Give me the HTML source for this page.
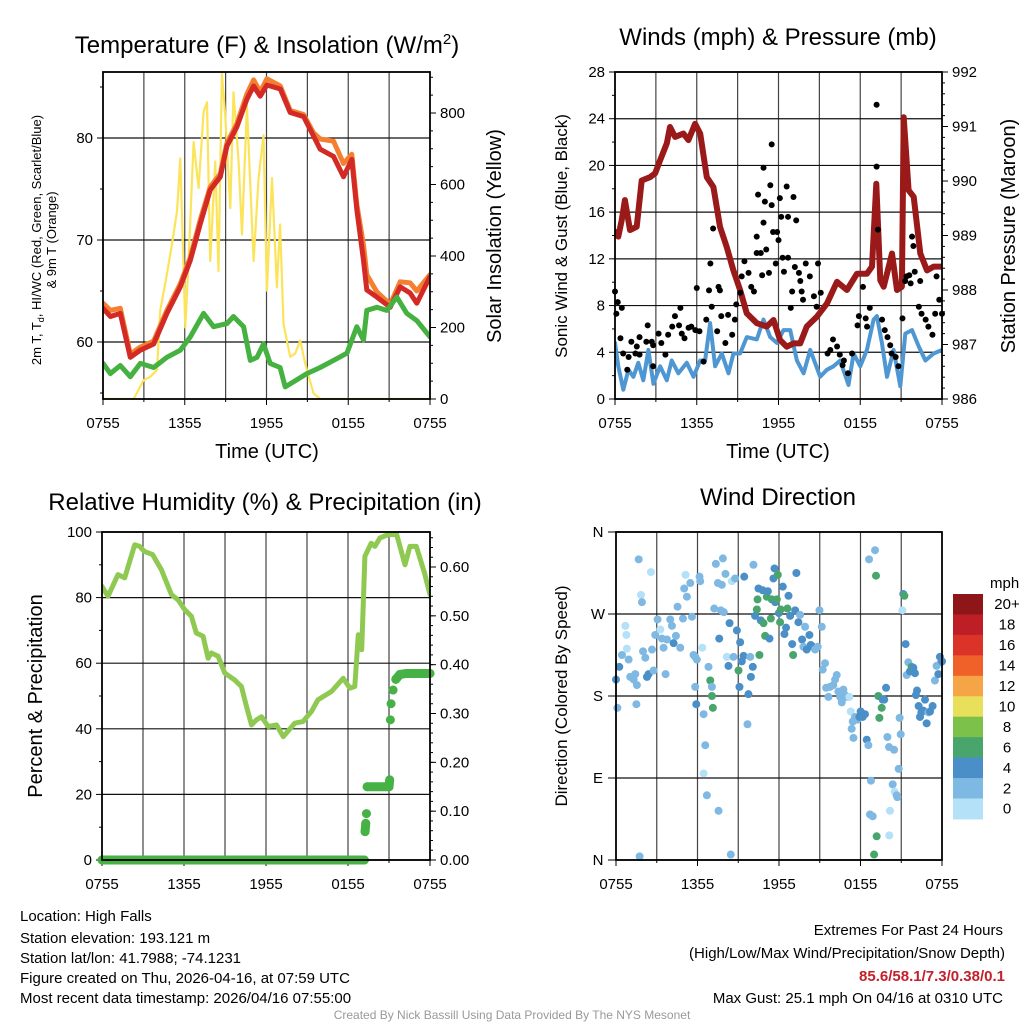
<!DOCTYPE html>
<html><head><meta charset="utf-8"><style>
html,body{margin:0;padding:0;background:#fff;}
svg{display:block;font-family:"Liberation Sans",sans-serif;}
</style></head><body>
<svg id="c" width="1024" height="1024" xmlns="http://www.w3.org/2000/svg">
<rect width="1024" height="1024" fill="#fff"/>
<text x="267" y="53" font-size="24" text-anchor="middle">Temperature (F) &amp; Insolation (W/m<tspan dy="-9" font-size="15">2</tspan><tspan dy="9">)</tspan></text>
<text x="778" y="45" font-size="24" text-anchor="middle">Winds (mph) &amp; Pressure (mb)</text>
<text x="265" y="510" font-size="24" text-anchor="middle">Relative Humidity (%) &amp; Precipitation (in)</text>
<text x="778" y="505" font-size="24" text-anchor="middle">Wind Direction</text>
<text x="267" y="458" font-size="20" text-anchor="middle">Time (UTC)</text>
<text x="778" y="458" font-size="20" text-anchor="middle">Time (UTC)</text>
<text transform="translate(41,240) rotate(-90)" font-size="13" text-anchor="middle">2m T, T<tspan dy="3" font-size="9">d</tspan><tspan dy="-3">, HI/WC (Red, Green, Scarlet/Blue)</tspan></text>
<text transform="translate(56,240) rotate(-90)" font-size="13" text-anchor="middle">&amp; 9m T (Orange)</text>
<text transform="translate(501,236) rotate(-90)" font-size="20" text-anchor="middle">Solar Insolation (Yellow)</text>
<text transform="translate(567,236) rotate(-90)" font-size="17" text-anchor="middle">Sonic Wind &amp; Gust (Blue, Black)</text>
<text transform="translate(1015,236) rotate(-90)" font-size="20" text-anchor="middle">Station Pressure (Maroon)</text>
<text transform="translate(42,696) rotate(-90)" font-size="20" text-anchor="middle">Percent &amp; Precipitation</text>
<text transform="translate(567,696) rotate(-90)" font-size="17" text-anchor="middle">Direction (Colored By Speed)</text>
<g font-size="15">
<text x="20" y="921">Location: High Falls</text>
<text x="20" y="943">Station elevation: 193.121 m</text>
<text x="20" y="963">Station lat/lon: 41.7988; -74.1231</text>
<text x="20" y="983">Figure created on Thu, 2026-04-16, at 07:59 UTC</text>
<text x="20" y="1003">Most recent data timestamp: 2026/04/16 07:55:00</text>
</g>
<g font-size="15" text-anchor="end">
<text x="1003" y="935">Extremes For Past 24 Hours</text>
<text x="1005" y="958">(High/Low/Max Wind/Precipitation/Snow Depth)</text>
<text x="1005" y="981" fill="#c4202b" font-weight="bold">85.6/58.1/7.3/0.38/0.1</text>
<text x="1003" y="1003">Max Gust: 25.1 mph On 04/16 at 0310 UTC</text>
</g>
<text x="512" y="1019" font-size="12" fill="#999" text-anchor="middle">Created By Nick Bassill Using Data Provided By The NYS Mesonet</text>
</svg>
<script>
// ---- Temperature panel data ----
const tTimes=[0,0.54,1.27,2.0,2.74,3.72,4.69,5.67,6.41,7.14,7.87,8.61,9.09,9.83,10.56,11.05,11.54,12.03,13.01,13.74,14.72,15.45,15.94,16.92,17.65,18.26,18.63,19.12,19.36,20.1,21.08,21.81,22.54,23.03,24.0];
const tempRed=[63.3,62.5,62.8,58.5,59.2,59.8,62.8,65.4,68.0,71.6,74.9,76.2,79.2,81.1,83.8,85.1,84.1,85.2,84.8,82.5,82.1,80.2,78.9,78.2,76.2,77.9,73.0,68.0,65.1,64.4,63.4,65.4,64.8,63.8,66.4];
const tempOrange=[63.8,63.1,63.3,58.8,59.5,60.1,63.1,65.7,68.3,72.0,75.2,76.5,79.5,81.4,84.3,85.7,84.5,85.8,85.1,82.7,82.3,80.5,79.9,79.7,77.5,78.4,73.5,69.5,66.6,64.9,63.7,65.9,65.8,65.0,66.6];
const gTimes=[0,0.54,1.27,2.0,2.74,3.72,4.69,5.67,6.41,7.38,8.12,9.1,9.58,10.32,10.81,11.3,11.78,12.27,13.0,13.37,13.99,14.96,15.94,16.92,17.9,18.63,19.12,19.36,20.1,20.83,21.56,22.3,23.03,24];
const dewpoint=[57.9,56.9,57.7,56.6,57.9,57.5,58.5,59.2,60.5,62.8,61.5,61.8,62.5,61.5,58.2,58.5,59.8,57.9,57.5,55.6,56.1,56.9,57.5,58.2,58.9,61.5,60.2,63.1,63.4,63.1,64.4,62.8,62.1,60.5];
const sTimes=[0,2.25,2.98,3.47,3.96,4.2,4.69,5.06,5.43,5.67,6.04,6.28,6.65,7.02,7.38,7.63,7.87,8.24,8.48,8.73,8.97,9.34,9.58,9.95,10.2,10.56,11.05,11.42,11.78,12.03,12.4,12.76,13.0,13.25,13.74,14.11,14.47,14.84,15.45,15.94,24];
const solar=[0,0,53,62,81,247,349,432,525,673,200,386,719,590,803,830,386,664,358,909,794,534,858,664,460,821,386,618,738,303,618,312,488,210,118,127,164,99,16,0,0];
const xTickLabels=["0755","1355","1955","0155","0755"];
const tempTicks=[60,70,80];
const solarTicks=[0,200,400,600,800];
// ---- Wind panel data ----
const pTimes=[0,0.24,0.49,0.73,1.1,1.59,1.96,2.57,2.94,3.31,3.8,4.04,4.41,5.02,5.39,5.88,6.25,6.74,7.22,7.71,8.2,8.69,9.18,9.67,10.41,11.14,11.63,12.12,12.61,13.1,13.59,14.08,14.82,15.55,16.29,17.02,17.76,18.49,18.86,19.18,19.47,19.72,20.33,20.7,21.06,21.19,21.55,21.92,22.41,22.9,23.39,24];
const pressure=[989.07,988.98,989.28,989.65,989.10,989.16,990.01,990.07,990.14,990.38,990.69,990.99,990.81,990.87,990.75,991.05,990.87,990.07,989.89,989.16,988.79,988.36,988.0,987.57,987.39,987.33,987.45,987.08,986.96,987.02,987.02,987.33,987.51,987.75,988.15,988.0,988.30,988.30,988.43,989.95,988.18,988.06,988.67,988.0,988.06,991.17,989.83,989.71,988.67,988.36,988.43,988.43];
const wTimes=[0,0.24,0.61,0.98,1.35,1.71,2.08,2.45,2.82,3.31,3.8,4.16,4.65,5.27,5.76,6.25,6.61,6.98,7.35,7.84,8.33,8.69,9.18,9.67,10.41,10.9,11.39,11.88,12.37,12.86,13.35,13.84,14.33,15.06,15.55,16.04,16.53,17.14,17.51,18.0,18.49,18.98,19.22,19.59,19.96,20.45,20.94,21.31,21.8,22.29,22.78,23.39,24];
const windSpeed=[4.8,2.8,0.8,2.5,1.9,3.1,1.6,4.2,1.3,2.8,1.6,3.3,2.2,3.1,1.9,3.3,3.3,6.5,2.8,3.9,2.2,3.9,3.9,5.3,5.1,6.8,5.3,4.8,5.9,5.9,3.3,2.2,4.2,1.9,2.5,2.8,3.3,1.2,3.9,2.8,4.2,6.8,7.1,4.8,1.9,4.2,1.1,5.6,5.9,4.5,3.3,3.9,4.2];
const gustTimes=[0.0,0.1,0.2,0.5,0.4,0.6,1.0,1.2,1.5,1.8,1.6,2.3,2.4,2.7,2.8,3.2,3.4,3.7,3.9,4.2,4.4,4.7,4.8,4.9,5.1,5.4,5.6,5.9,6.0,6.2,6.5,6.7,6.9,7.0,7.1,7.2,7.6,7.7,7.5,7.8,8.1,8.3,8.6,8.8,8.9,9.2,9.3,9.5,9.8,10.0,10.2,10.4,10.4,10.5,10.7,10.8,10.9,11.0,10.9,11.1,11.3,11.4,11.5,11.6,11.8,11.9,12.0,12.1,12.2,12.3,12.4,12.6,12.7,12.7,12.9,13.0,13.1,13.2,13.3,13.5,13.6,13.7,13.8,14.0,14.3,14.6,14.8,14.9,15.1,15.6,15.8,16.0,16.3,16.5,16.7,16.8,17.1,17.4,17.8,17.9,18.2,18.4,18.5,18.7,19.2,19.2,19.3,19.6,19.8,20.0,20.2,20.3,20.6,20.8,21.1,21.3,21.4,21.6,21.7,21.8,21.9,22.0,22.3,22.4,22.5,22.8,23.0,23.3,23.5,23.6,23.8,24.0,11.5,1.8,2.8,0.9];
const gustSpeed=[9.2,7.3,8.3,7.8,5.2,3.9,3.6,4.9,3.9,5.3,4.5,4.9,6.3,4.9,4.6,5.6,4.8,3.8,5.5,6.2,7.1,6.3,7.8,5.6,5.2,6.1,6.2,5.9,9.5,5.8,3.2,6.8,9.3,11.6,7.9,14.6,9.6,9.3,5.8,7.1,4.8,7.2,5.5,6.8,8.1,9.1,10.5,11.8,10.8,9.6,9.2,12.5,13.9,17.5,12.5,10.6,19.8,16.9,15.1,12.8,10.8,18.3,16.6,14.3,11.6,14.3,13.6,17.2,15.6,12.1,10.9,18.2,15.6,12.1,7.8,9.2,17.3,11.3,15.3,10.8,10.1,9.2,8.5,11.6,10.5,8.8,7.9,11.6,9.1,3.9,4.2,5.1,4.5,3.8,2.9,3.3,2.2,3.9,6.3,7.1,9.6,6.9,6.2,7.8,25.2,19.9,14.5,6.8,5.9,5.3,4.6,3.9,3.6,2.8,6.9,10.1,10.5,10.6,9.9,13.9,13.1,10.9,7.9,10.1,7.3,6.8,6.2,5.5,7.3,10.5,8.5,7.3,21.8,3.8,2.8,2.5];
const windTicks=[0,4,8,12,16,20,24,28];
const pressTicks=[986,987,988,989,990,991,992];
// ---- Humidity panel data ----
const rhTimes=[0,0.44,1.17,1.66,2.39,2.76,3.1,3.7,4.35,5.08,5.57,6.05,6.54,6.9,7.4,7.76,8.0,8.5,8.98,9.7,10.2,10.57,10.94,11.3,11.67,12.16,12.77,13.26,14.1,14.7,15.33,15.8,16.8,17.65,18.14,18.5,18.75,19.0,19.24,19.7,19.97,20.34,20.95,21.56,22.17,22.53,23.0,23.6,24];
const rh=[83.4,80.4,87.0,86.0,96.1,95.6,94.1,93.1,88.5,80.9,79.3,76.3,74.3,69.2,68.2,61.5,63.1,62.1,57.0,54.9,52.9,46.8,41.2,42.7,43.7,40.7,41.2,37.6,41.7,42.2,45.3,48.8,51.4,55.4,52.4,52.9,68.7,64.1,92.6,96.6,95.6,98.2,99.2,99.2,90.0,95.6,95.6,87.5,80.9];
const prTimes=[0,19.2,19.25,19.3,19.35,19.4,21.0,21.05,21.1,21.15,21.3,21.5,21.8,22.3,24];
const precip=[0,0,0.058,0.075,0.095,0.15,0.15,0.164,0.287,0.32,0.348,0.37,0.38,0.382,0.382];
const rhTicks=[0,20,40,60,80,100];
const prTicks=[0,0.1,0.2,0.3,0.4,0.5,0.6];
// ---- Wind direction data ----
const dirTimes=[0,0.1,0.24,0.44,0.69,0.76,0.8,0.93,1.05,1.3,1.42,1.54,1.5,1.67,1.74,1.84,1.91,1.99,2.16,2.28,2.4,2.57,2.65,2.77,2.89,3.06,3.26,3.38,3.5,3.65,3.75,3.99,4.12,4.24,4.41,4.53,4.73,4.93,5.02,5.12,5.22,5.47,5.59,5.71,5.83,5.83,5.91,5.95,6.15,6.2,6.35,6.45,6.57,6.45,6.69,6.81,6.94,7.06,7.06,7.13,7.23,7.35,7.5,7.55,7.6,7.72,7.79,7.87,7.94,8.06,8.16,8.28,8.36,8.45,8.53,8.65,8.77,8.9,9.02,9.09,9.14,9.26,9.39,9.44,9.68,9.75,9.88,9.93,10.07,10.12,10.24,10.37,10.42,10.49,10.56,10.66,10.8,10.86,10.98,11.1,11.18,11.3,11.4,11.47,11.59,11.67,11.72,11.84,11.91,11.99,12.08,12.13,12.28,12.4,12.52,12.62,12.7,12.82,12.97,13.04,13.19,13.28,13.43,13.55,13.7,13.8,13.92,14.04,14.24,14.34,14.49,14.66,14.85,14.98,15.15,15.22,15.39,15.47,15.64,15.76,16.0,16.13,16.25,16.37,16.5,16.62,16.74,16.86,16.99,17.18,17.28,17.35,17.43,17.48,17.6,17.77,17.92,18.01,18.16,18.33,18.46,18.58,18.63,18.77,18.7,18.9,19.07,19.14,19.19,19.0,19.31,19.39,19.56,19.63,19.75,19.88,19.98,20.1,20.17,20.12,20.37,20.47,20.51,20.66,20.71,20.81,20.88,20.96,21.08,21.15,21.23,21.32,21.4,21.52,21.64,21.76,21.89,22.01,22.08,22.16,22.28,22.38,22.48,22.62,22.75,22.87,23.0,23.12,23.31,23.48,23.6,23.73,23.85,23.92,24.0];
const dirDeg=[198,167,212,225,257,247,232,220,201,198,204,192,171,330,4,291,283,229,222,201,204,316,231,208,247,264,253,243,233,204,242,264,257,238,246,278,233,265,298,313,289,304,267,225,223,190,171,220,311,306,233,160,126,95,71,212,197,190,180,167,276,325,304,54,243,274,302,331,272,314,223,213,260,6,306,223,309,252,208,190,239,218,224,311,149,182,223,201,212,324,268,275,286,298,225,263,296,260,246,289,295,243,265,286,309,320,283,286,313,271,261,275,300,248,255,276,290,268,237,225,274,315,261,269,242,234,256,231,247,236,234,231,234,274,256,209,216,189,179,190,192,198,203,185,179,173,187,181,179,179,163,144,152,134,157,154,157,163,157,160,132,126,330,87,50,48,340,312,26,6,180,156,167,176,176,189,135,124,54,27,83,121,75,71,69,100,156,138,274,292,290,237,203,217,207,212,211,205,181,186,169,157,162,164,176,150,162,163,169,197,213,204,223,217,218];
const dirSpeedClass=[2,1,2,1,0,0,0,1,1,1,1,1,1,1,1,0,1,1,1,2,2,0,1,1,1,1,0,1,1,1,1,1,1,2,1,1,1,1,1,0,1,1,1,1,1,1,2,1,1,1,0,1,1,0,1,1,3,1,3,3,1,1,1,1,2,1,1,1,1,1,0,2,2,1,0,1,1,2,3,2,2,2,2,2,1,2,1,2,2,1,2,3,3,2,3,2,2,3,3,3,2,2,3,3,2,2,2,3,3,2,3,3,2,2,2,3,2,2,2,3,2,2,2,1,2,1,1,2,2,2,2,1,1,1,1,1,1,1,1,1,1,1,1,1,1,1,1,1,1,0,0,1,1,1,1,1,2,2,2,2,2,1,1,1,1,1,1,3,3,3,3,3,3,2,2,2,1,1,0,0,1,1,0,1,1,1,1,1,0,2,3,2,1,1,2,3,2,2,2,2,2,2,2,2,2,2,1,2,2,1,1,2,2,1,2,2];
const speedColors=["#b4e1f7","#7fb9e3","#4a8fc7","#48a56b"];
const barLabels=["20+","18","16","14","12","10","8","6","4","2","0"];
const barColors=["#8e1518","#be1e26","#dc3328","#ef6129","#f6a546","#e8e05a","#7cc14a","#48a56b","#4a8fc7","#7db9e3","#b4e1f7"];
const dirTicks=[0,90,180,270,360];
const dirLabels=["N","E","S","W","N"];

const NS="http://www.w3.org/2000/svg";
const svg=document.getElementById("c");
function el(tag,attrs,parent){const e=document.createElementNS(NS,tag);for(const k in attrs)e.setAttribute(k,attrs[k]);(parent||svg).appendChild(e);return e;}
function lin(d0,d1,r0,r1){return v=>r0+(v-d0)*(r1-r0)/(d1-d0);}
function line(xs,ys,sx,sy,color,w,name,clip){
  const p=el("polyline",{points:xs.map((t,i)=>sx(t).toFixed(1)+","+sy(ys[i]).toFixed(1)).join(" "),fill:"none",stroke:color,"stroke-width":w,"stroke-linejoin":"round","stroke-linecap":"round","clip-path":clip});
  
  
}
function panel(id,x0,x1,y0,y1){
  const g=el("g",{});
  
  
  const cp=el("clipPath",{id:"cp-"+id});el("rect",{x:x0,y:y0,width:x1-x0,height:y1-y0},cp);
  const sx=lin(0,24,x0,x1);
  for(let h=3;h<24;h+=3){const l=el("line",{x1:sx(h),x2:sx(h),y1:y0,y2:y1,stroke:"#444","stroke-width":1.2},g);}
  xTickLabels.forEach((lab,i)=>{const x=sx(i*6);
    el("line",{x1:x,x2:x,y1:y1,y2:y1+6,stroke:"#000"},g);
    const t=el("text",{x:x,y:y1+29,"font-size":15,"text-anchor":"middle"},g);t.textContent=lab;
    });
  for(let h=3;h<24;h+=6){el("line",{x1:sx(h),x2:sx(h),y1:y1,y2:y1+3,stroke:"#000"},g);}
  return {g,sx,clip:"url(#cp-"+id+")",x0,x1,y0,y1};
}
function frame(P){const r=el("rect",{x:P.x0,y:P.y0,width:P.x1-P.x0,height:P.y1-P.y0,fill:"none",stroke:"#000","stroke-width":1.8});}
function leftAxis(P,ticks,sy,fmt,grid,minorStep){
  ticks.forEach(v=>{const y=sy(v);
    if(grid)el("line",{x1:P.x0,x2:P.x1,y1:y,y2:y,stroke:"#111","stroke-width":1.2});
    el("line",{x1:P.x0-6,x2:P.x0,y1:y,y2:y,stroke:"#000"});
    const t=el("text",{x:P.x0-10,y:y+5,"font-size":15,"text-anchor":"end"});t.textContent=fmt(v);
    });
  if(minorStep){for(let k=0;k<ticks.length+2;k++){const v=ticks[0]-minorStep+k*2*minorStep;const y=sy(v);if(y>P.y0&&y<P.y1)el("line",{x1:P.x0-3,x2:P.x0,y1:y,y2:y,stroke:"#000"});}}
}
function rightAxis(P,ticks,sy,fmt,minorStep){
  ticks.forEach(v=>{const y=sy(v);
    el("line",{x1:P.x1,x2:P.x1+6,y1:y,y2:y,stroke:"#000"});
    const t=el("text",{x:P.x1+10,y:y+5,"font-size":15,"text-anchor":"start"});t.textContent=fmt(v);
    });
  if(minorStep){let v=ticks[0]-5*minorStep;for(let k=0;k<200;k++,v+=minorStep){const y=sy(v);if(y>P.y0&&y<P.y1)el("line",{x1:P.x1,x2:P.x1+3,y1:y,y2:y,stroke:"#000"});}}
}

// Panel 1
{const P=panel("temp",103,430,72,399);
 const sy=lin(60,70,342,240), ss=lin(0,800,399,113);
 leftAxis(P,tempTicks,sy,v=>v,true,5);
 rightAxis(P,solarTicks,ss,v=>v,50);
 line(sTimes,solar,P.sx,ss,"#fce45a",2.2,"solar-line",P.clip);
 line(tTimes,tempOrange,P.sx,sy,"#f47f30",5,"temp-9m-line",P.clip);
 line(tTimes,tempRed,P.sx,sy,"#d42a25",5,"temp-2m-line",P.clip);
 line(gTimes,dewpoint,P.sx,sy,"#45b140",5,"dewpoint-line",P.clip);
 frame(P);}
// Panel 2
{const P=panel("wind",615,942,72,399);
 const sy=lin(0,28,399,72), sp=lin(986,992,399,72);
 leftAxis(P,windTicks,sy,v=>v,true,2);
 rightAxis(P,pressTicks,sp,v=>v,0.2);
 line(wTimes,windSpeed,P.sx,sy,"#4f97d2",4,"wind-speed-line",P.clip);
 line(pTimes,pressure,P.sx,sp,"#9a1a1a",6,"pressure-line",P.clip);
 gustTimes.forEach((t,i)=>{const c=el("circle",{cx:P.sx(t),cy:sy(gustSpeed[i]),r:3,fill:"#000"});
   });
 frame(P);}
// Panel 3
{const P=panel("rh",102,430,532,860);
 const sy=lin(0,100,860,532), spr=lin(0,0.6,860,567);
 leftAxis(P,rhTicks,sy,v=>v,true,10);
 rightAxis(P,prTicks,spr,v=>v.toFixed(2),0.02);
 line(rhTimes,rh,P.sx,sy,"#8fc952",5,"humidity-line",P.clip);
 for(let i=1;i<prTimes.length;i++){if(Math.abs(precip[i]-precip[i-1])<0.02){const l=el("line",{x1:P.sx(prTimes[i-1]),x2:P.sx(prTimes[i]),y1:spr(precip[i-1]),y2:spr(precip[i]),stroke:"#46b245","stroke-width":9,"stroke-linecap":"round"});}}
 prTimes.forEach((t,i)=>{const c=el("circle",{cx:P.sx(t),cy:spr(precip[i]),r:4.5,fill:"#46b245"});
   });
 frame(P);}
// Panel 4
{const P=panel("dir",616,942,532,860);
 const sy=lin(0,360,860,532);
 dirTicks.forEach((v,i)=>{const y=sy(v);
   el("line",{x1:P.x0,x2:P.x1,y1:y,y2:y,stroke:"#111","stroke-width":1.2});
   el("line",{x1:P.x0-8,x2:P.x0,y1:y,y2:y,stroke:"#000"});
   const t=el("text",{x:P.x0-18,y:y+5,"font-size":15,"text-anchor":"middle"});t.textContent=dirLabels[i];
   });
 dirTimes.forEach((t,i)=>{const c=el("circle",{cx:P.sx(t),cy:sy(dirDeg[i]),r:4,fill:speedColors[dirSpeedClass[i]]});
   });
 frame(P);
 const bx=953,by=594,bh=20.45;
 const m=el("text",{x:990,y:588,"font-size":15,"text-anchor":"start"});m.textContent="mph";
 
 barLabels.forEach((lab,i)=>{const r=el("rect",{x:bx,y:by+i*bh,width:30,height:bh+0.5,fill:barColors[i]});
   
   const t=el("text",{x:1007,y:by+i*bh+bh/2+5,"font-size":15,"text-anchor":"middle"});t.textContent=lab;
   });
}
</script>
</body></html>
